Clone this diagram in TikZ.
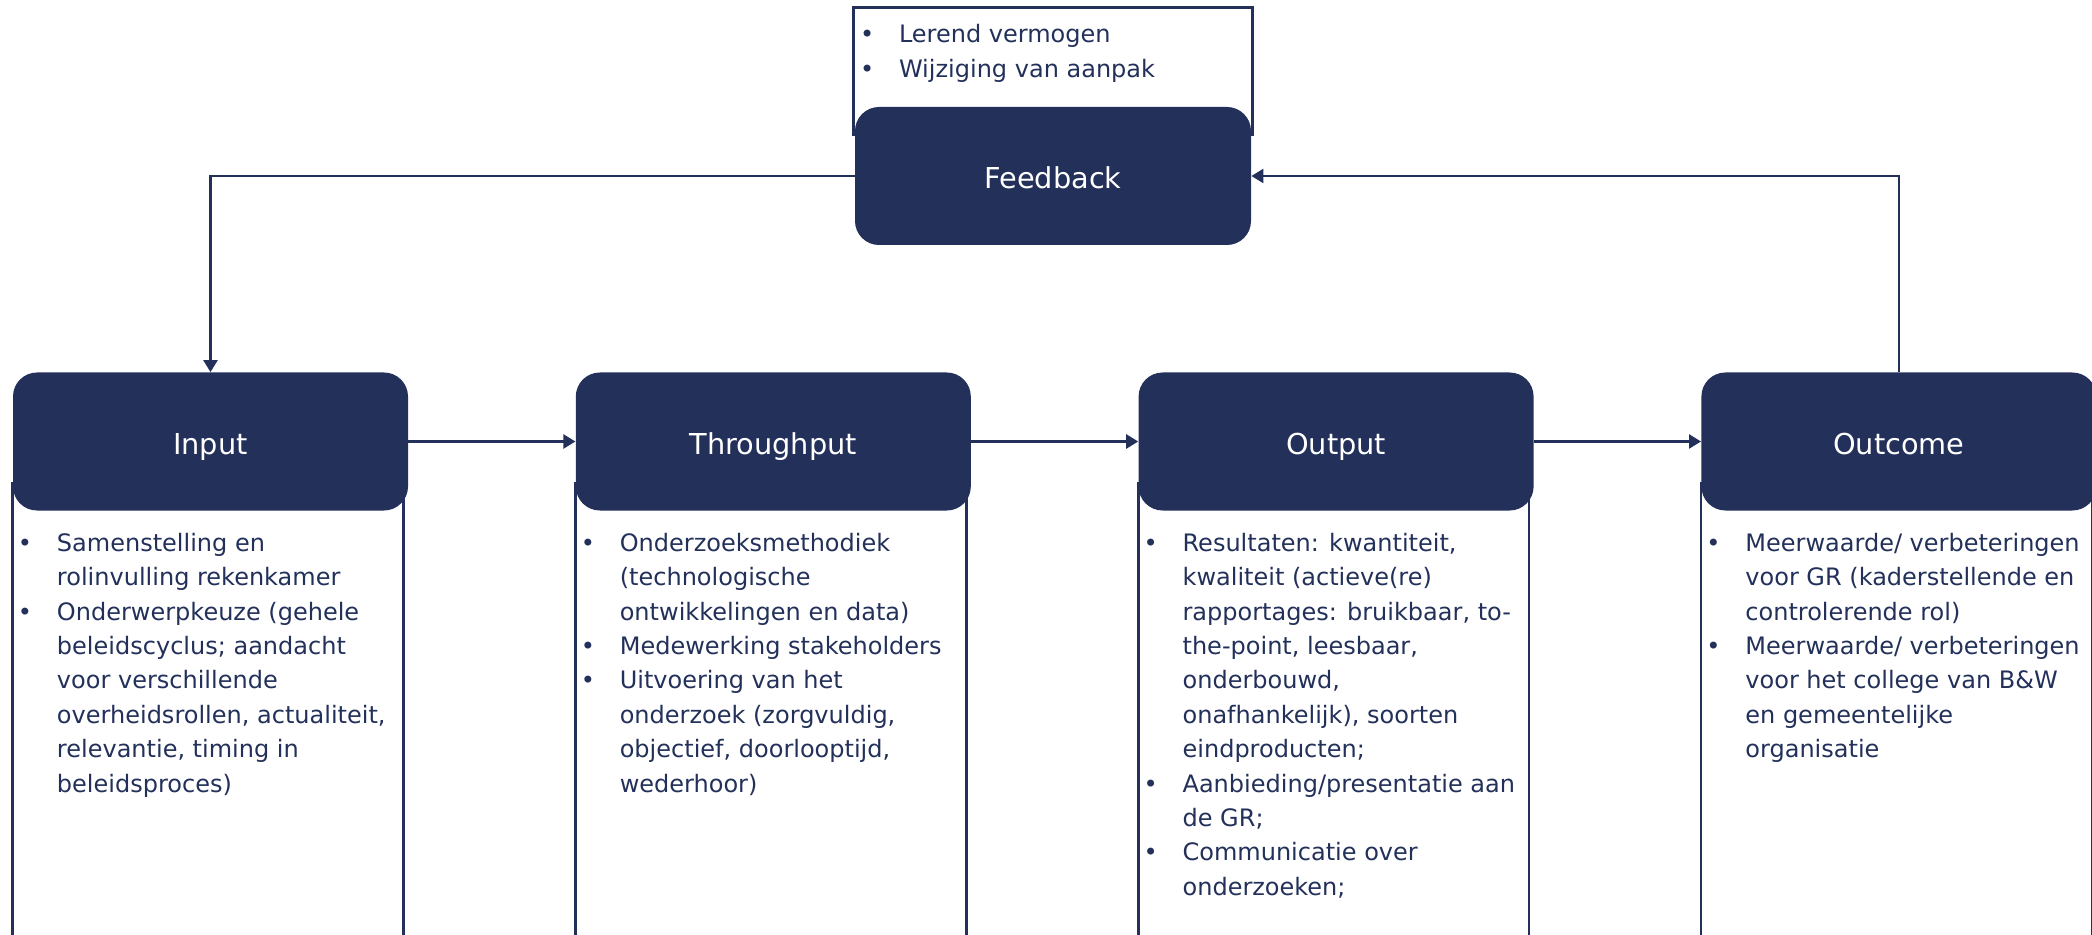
\documentclass[tikz,border=0pt]{standalone}
\usepackage{fontspec}
\setmainfont{DejaVu Sans}
\usetikzlibrary{positioning,arrows.meta}
\definecolor{navy}{HTML}{22305A}
\newcommand{\bul}{\strut\makebox[19.5pt][l]{\textbullet}}
\newcommand{\ind}{\strut\hspace*{19.5pt}}

\begin{document}
\begin{tikzpicture}[
    node distance=83.5pt,
    header/.style={rectangle, rounded corners=12pt, fill=navy, text=white, minimum width=197.5pt, minimum height=69pt, text height=14pt, text depth=1.5pt, font=\fontsize{14.4}{17}\selectfont},
    list/.style={anchor=north west, align=left, inner sep=0pt, text=navy, font=\fontsize{12}{17.2}\selectfont},
    panel/.style={draw=navy, line width=1.3pt},
    arrow/.style={-{Triangle[length=6pt,width=7pt]}, draw=navy, line width=1.2pt}
]
\useasboundingbox (0,0) rectangle (1046pt,-467.5pt);
\coordinate (bottom) at (0,-467.5pt);

\node[header] (input) at (105.25pt,-220.75pt) {Input};
\node[header, right=of input] (throughput) {Throughput};
\node[header, right=of throughput] (output) {Output};
\node[header, right=of output] (outcome) {Outcome};
\node[header, minimum width=198pt] (feedback) at (526.5pt,-88pt) {Feedback};

% panels under the headers
\foreach \n in {input,throughput,output,outcome}
    \draw[panel] (\n.south west |- bottom) -- ([yshift=14pt]\n.south west) -- ([xshift=-2.5pt,yshift=14pt]\n.south east) -- ([xshift=-2.5pt]\n.south east |- bottom);
\draw[panel] ([xshift=-0.5pt,yshift=49.5pt]feedback.north west) rectangle ([xshift=0.5pt,yshift=-14pt]feedback.north east);

\node[list] (feedbacktxt) at ([xshift=2.5pt,yshift=44.2pt]feedback.north west) {\bul Lerend vermogen\\\bul Wijziging van aanpak};

\node[list] (inputtxt) at ([xshift=2.5pt,yshift=-8pt]input.south west) {\bul Samenstelling en\\\ind rolinvulling rekenkamer\\\bul Onderwerpkeuze (gehele\\\ind beleidscyclus; aandacht\\\ind voor verschillende\\\ind overheidsrollen, actualiteit,\\\ind relevantie, timing in\\\ind beleidsproces)};
\node[list] (throughputtxt) at ([xshift=2.5pt,yshift=-8pt]throughput.south west) {\bul Onderzoeksmethodiek\\\ind (technologische\\\ind ontwikkelingen en data)\\\bul Medewerking stakeholders\\\bul Uitvoering van het\\\ind onderzoek (zorgvuldig,\\\ind objectief, doorlooptijd,\\\ind wederhoor)};
\node[list] (outputtxt) at ([xshift=2.5pt,yshift=-8pt]output.south west) {\bul Resultaten: kwantiteit,\\\ind kwaliteit (actieve(re)\\\ind rapportages: bruikbaar, to-\\\ind the-point, leesbaar,\\\ind onderbouwd,\\\ind onafhankelijk), soorten\\\ind eindproducten;\\\bul Aanbieding/presentatie aan\\\ind de GR;\\\bul Communicatie over\\\ind onderzoeken;};
\node[list] (outcometxt) at ([xshift=2.5pt,yshift=-8pt]outcome.south west) {\bul Meerwaarde/ verbeteringen\\\ind voor GR (kaderstellende en\\\ind controlerende rol)\\\bul Meerwaarde/ verbeteringen\\\ind voor het college van B\&W\\\ind en gemeentelijke\\\ind organisatie};

\draw[arrow] (input) -- (throughput);
\draw[arrow] (throughput) -- (output);
\draw[arrow] (output) -- (outcome);
\draw[arrow] (outcome.north) |- (feedback.east);
\draw[arrow] (feedback.west) -| (input.north);

\end{tikzpicture}
\end{document}
